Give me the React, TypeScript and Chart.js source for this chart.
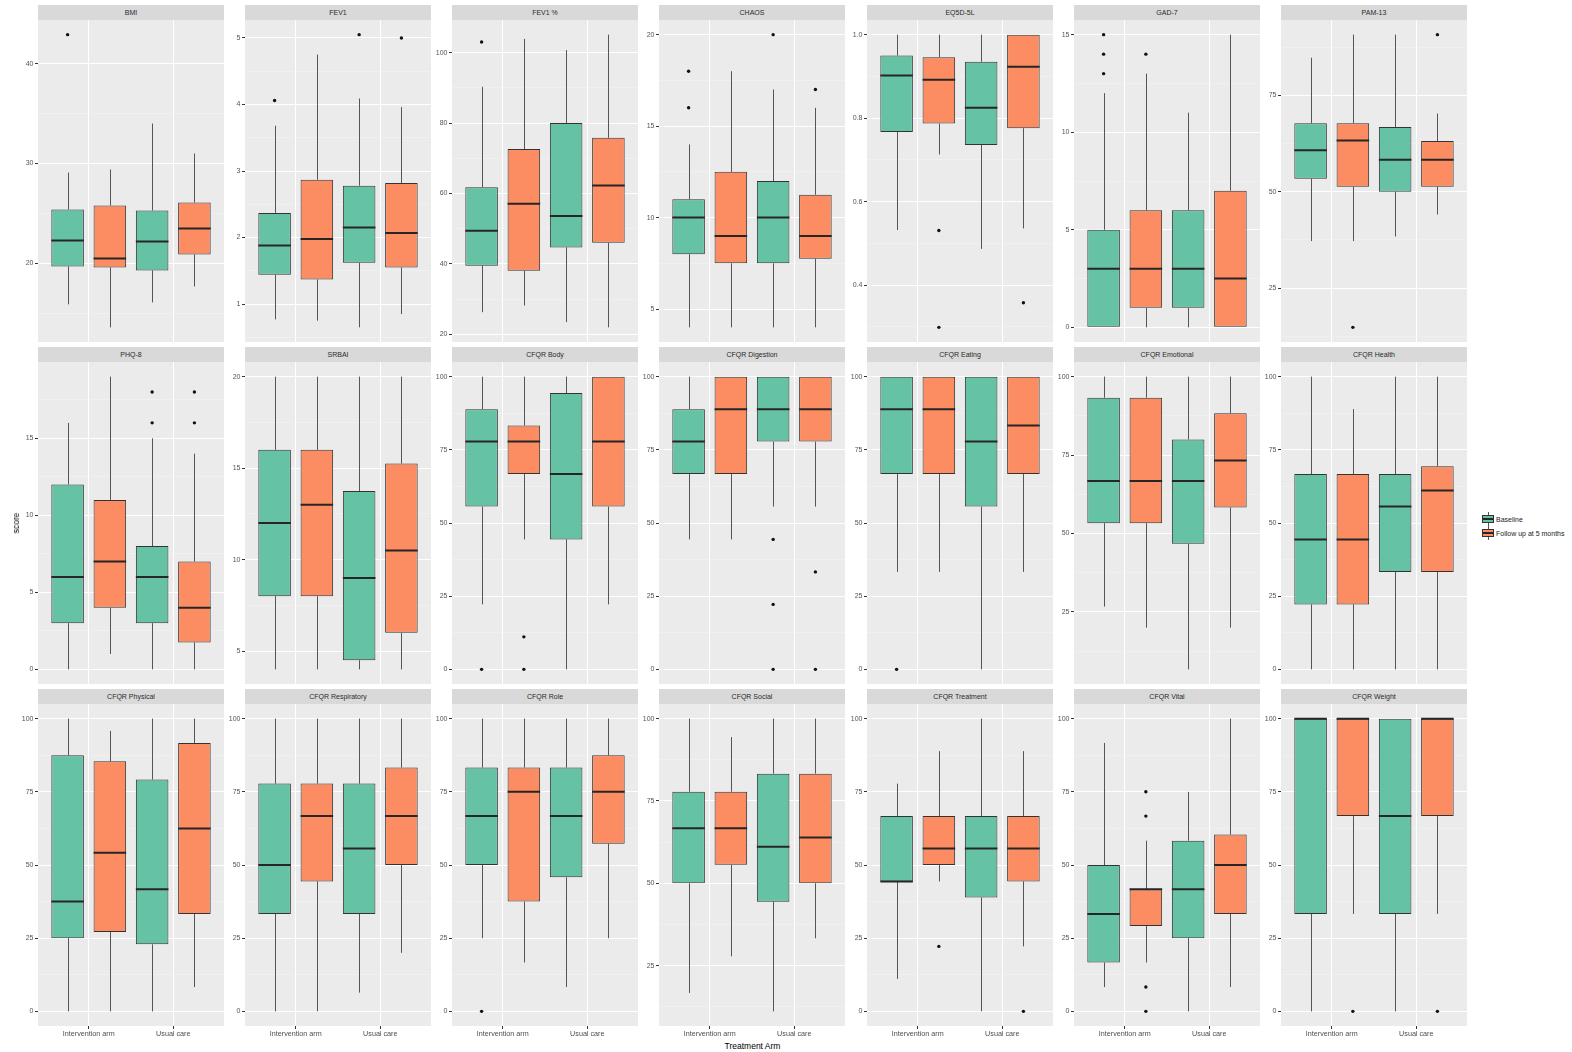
import React, { useEffect, useRef } from 'react';
import { Chart, registerables } from 'chart.js';

Chart.register(...registerables);

// ---------------- DATA ----------------
const panelTitles = [
  'BMI', 'FEV1', 'FEV1 %', 'CHAOS', 'EQ5D-5L', 'GAD-7', 'PAM-13',
  'PHQ-8', 'SRBAI', 'CFQR Body', 'CFQR Digestion', 'CFQR Eating', 'CFQR Emotional', 'CFQR Health',
  'CFQR Physical', 'CFQR Respiratory', 'CFQR Role', 'CFQR Social', 'CFQR Treatment', 'CFQR Vital', 'CFQR Weight',
];
const armLabels = ['Intervention arm', 'Usual care'];
const seriesNames = ['Baseline', 'Follow up at 5 months'];

// [lower whisker, Q1, median, Q3, upper whisker] for [Intervention arm, Usual care]
const baselineStats = [
  [[15.9, 19.7, 22.3, 25.4, 29.1], [16.1, 19.3, 22.2, 25.3, 34.0]],
  [[0.77, 1.44, 1.88, 2.37, 3.68], [0.65, 1.62, 2.15, 2.78, 4.09]],
  [[26.3, 39.5, 49.4, 61.8, 90.3], [23.5, 44.7, 53.6, 80.0, 100.7]],
  [[4, 8, 10, 11, 14], [4, 7.5, 10, 12, 17]],
  [[0.532, 0.767, 0.902, 0.95, 1], [0.487, 0.736, 0.825, 0.935, 1]],
  [[0, 0, 3, 5, 12], [0, 1, 3, 6, 11]],
  [[37.2, 53.4, 60.8, 67.8, 84.8], [38.4, 50, 58.3, 66.8, 90.8]],
  [[0, 3, 6, 12, 16], [0, 3, 6, 8, 15]],
  [[4, 8, 12, 16, 20], [4, 4.5, 9, 13.75, 20]],
  [[22.2, 55.6, 77.8, 88.9, 100], [0, 44.4, 66.7, 94.4, 100]],
  [[44.4, 66.7, 77.8, 88.9, 100], [55.6, 77.8, 88.9, 100, 100]],
  [[33.3, 66.7, 88.9, 100, 100], [0, 55.6, 77.8, 100, 100]],
  [[26.7, 53.3, 66.7, 93.3, 100], [6.7, 46.7, 66.7, 80, 100]],
  [[0, 22.2, 44.4, 66.7, 100], [0, 33.3, 55.6, 66.7, 100]],
  [[0, 25, 37.5, 87.5, 100], [0, 22.9, 41.7, 79.2, 100]],
  [[0, 33.3, 50, 77.8, 100], [6.4, 33.3, 55.6, 77.8, 100]],
  [[25, 50, 66.7, 83.3, 100], [8.3, 45.8, 66.7, 83.3, 100]],
  [[16.7, 50, 66.7, 77.8, 100], [11.1, 44.4, 61.1, 83.3, 100]],
  [[11.1, 44.4, 44.4, 66.7, 77.8], [0, 38.9, 55.6, 66.7, 100]],
  [[8.3, 16.7, 33.3, 50, 91.7], [0, 25, 41.7, 58.3, 75]],
  [[0, 33.3, 100, 100, 100], [0, 33.3, 66.7, 100, 100]],
];
const followUpStats = [
  [[13.6, 19.6, 20.5, 25.8, 29.4], [17.7, 20.9, 23.5, 26.1, 31.0]],
  [[0.75, 1.37, 1.98, 2.87, 4.75], [0.85, 1.55, 2.07, 2.82, 3.96]],
  [[28.2, 38.1, 57.1, 72.6, 103.9], [22.0, 46.0, 62.3, 75.8, 105.1]],
  [[4, 7.5, 9, 12.5, 18], [4, 7.75, 9, 11.25, 16]],
  [[0.713, 0.787, 0.892, 0.946, 1], [0.536, 0.776, 0.923, 1, 1]],
  [[0, 1, 3, 6, 13], [0, 0, 2.5, 7, 15]],
  [[37.2, 51.3, 63.3, 67.8, 90.8], [44.1, 51.3, 58.3, 63.2, 70.3]],
  [[1, 4, 7, 11, 19], [0, 1.75, 4, 7, 14]],
  [[4, 8, 13, 16, 20], [4, 6, 10.5, 15.25, 20]],
  [[44.4, 66.7, 77.8, 83.3, 100], [22.2, 55.6, 77.8, 100, 100]],
  [[44.4, 66.7, 88.9, 100, 100], [55.6, 77.8, 88.9, 100, 100]],
  [[33.3, 66.7, 88.9, 100, 100], [33.3, 66.7, 83.3, 100, 100]],
  [[20, 53.3, 66.7, 93.3, 100], [20, 58.3, 73.3, 88.3, 100]],
  [[0, 22.2, 44.4, 66.7, 88.9], [0, 33.3, 61.1, 69.4, 100]],
  [[0, 27.1, 54.2, 85.4, 95.8], [8.3, 33.3, 62.5, 91.7, 100]],
  [[0, 44.4, 66.7, 77.8, 100], [20, 50, 66.7, 83.3, 100]],
  [[16.7, 37.5, 75, 83.3, 100], [25, 57.3, 75, 87.5, 100]],
  [[27.8, 55.6, 66.7, 77.8, 94.4], [33.3, 50, 63.9, 83.3, 100]],
  [[44.4, 50, 55.6, 66.7, 88.9], [22.2, 44.4, 55.6, 66.7, 88.9]],
  [[16.7, 29.2, 41.7, 41.7, 58.3], [8.3, 33.3, 50, 60.4, 100]],
  [[33.3, 66.7, 100, 100, 100], [33.3, 66.7, 100, 100, 100]],
];
const baselineOutliers = [
  [[42.9], []], [[4.06], [5.05]], [[103], []], [[18, 16], [20]], [[], []], [[15, 14, 13], []], [[], []],
  [[], [18, 16]], [[], []], [[0], []], [[], [44.4, 22.2, 0]], [[0], []], [[], []], [[], []],
  [[], []], [[], []], [[0], []], [[], []], [[], []], [[], []], [[], []],
];
const followUpOutliers = [
  [[], []], [[], [5.0]], [[], []], [[], [17]], [[0.531, 0.299], [0.358]], [[14], []], [[14.8], [90.8]],
  [[], [18, 16]], [[], []], [[11.1, 0], []], [[], [33.3, 0]], [[], []], [[], []], [[], []],
  [[], []], [[], []], [[], []], [[], []], [[22.2], [0]], [[75, 66.7, 8.3, 0], []], [[0], [0]],
];
const yTickLabels = [
  ['20', '30', '40'], ['1', '2', '3', '4', '5'], ['20', '40', '60', '80', '100'], ['5', '10', '15', '20'],
  ['0.4', '0.6', '0.8', '1.0'], ['0', '5', '10', '15'], ['25', '50', '75'],
  ['0', '5', '10', '15'], ['5', '10', '15', '20'], ['0', '25', '50', '75', '100'], ['0', '25', '50', '75', '100'],
  ['0', '25', '50', '75', '100'], ['25', '50', '75', '100'], ['0', '25', '50', '75', '100'],
  ['0', '25', '50', '75', '100'], ['0', '25', '50', '75', '100'], ['0', '25', '50', '75', '100'],
  ['25', '50', '75', '100'], ['0', '25', '50', '75', '100'], ['0', '25', '50', '75', '100'], ['0', '25', '50', '75', '100'],
];

// ---------------- STYLE / LAYOUT ----------------
const FONT = '"Liberation Sans", Arimo, Arial, Helvetica, sans-serif';
const seriesColors = ['#66C2A5', '#FC8D62'];
const colLefts = [38, 245, 452, 659, 867, 1074, 1281];
const stripTops = [5, 347, 689];
const PANEL_W = 186;
const STRIP_H = 15;
const PLOT_H = 322;
const AXIS_W = 21;
const XAXIS_H = 14;

const boxPlugin = {
  id: 'boxparts',
  beforeDraw(chart: any) {
    const { ctx, chartArea } = chart;
    ctx.save();
    ctx.fillStyle = '#EBEBEB';
    ctx.fillRect(chartArea.left, chartArea.top, chartArea.right - chartArea.left, chartArea.bottom - chartArea.top);
    ctx.restore();
  },
  beforeDatasetsDraw(chart: any) {
    const { ctx } = chart;
    const y = chart.scales.y;
    const stats = chart.options.plugins.boxparts.stats;
    ctx.save();
    ctx.strokeStyle = '#555555';
    ctx.lineWidth = 1;
    stats.forEach((series: number[][], di: number) => {
      const meta = chart.getDatasetMeta(di);
      series.forEach((s, i) => {
        const bar = meta.data[i];
        const x = Math.round(bar.x) + 0.5;
        ctx.beginPath();
        ctx.moveTo(x, y.getPixelForValue(s[3]));
        ctx.lineTo(x, y.getPixelForValue(s[4]));
        ctx.moveTo(x, y.getPixelForValue(s[1]));
        ctx.lineTo(x, y.getPixelForValue(s[0]));
        ctx.stroke();
      });
    });
    ctx.restore();
  },
  afterDatasetsDraw(chart: any) {
    const { ctx } = chart;
    const y = chart.scales.y;
    const { stats, outliers } = chart.options.plugins.boxparts;
    ctx.save();
    stats.forEach((series: number[][], di: number) => {
      const meta = chart.getDatasetMeta(di);
      series.forEach((s, i) => {
        const bar = meta.data[i];
        const half = bar.width / 2;
        const ym = y.getPixelForValue(s[2]);
        ctx.strokeStyle = '#262626';
        ctx.lineWidth = 2;
        ctx.beginPath();
        ctx.moveTo(bar.x - half, ym);
        ctx.lineTo(bar.x + half, ym);
        ctx.stroke();
        ctx.fillStyle = '#111111';
        (outliers[di][i] || []).forEach((v: number) => {
          ctx.beginPath();
          ctx.arc(bar.x, y.getPixelForValue(v), 1.7, 0, Math.PI * 2);
          ctx.fill();
        });
      });
    });
    ctx.restore();
  },
};

function Panel({ index }: { index: number }) {
  const ref = useRef<HTMLCanvasElement | null>(null);
  const col = index % 7;
  const row = Math.floor(index / 7);
  const bottomRow = row === 2;
  const left = colLefts[col];
  const stripTop = stripTops[row];
  const canvasW = AXIS_W + PANEL_W;
  const canvasH = PLOT_H + (bottomRow ? XAXIS_H : 0);

  useEffect(() => {
    const canvas = ref.current;
    if (!canvas) return;
    const stats = [baselineStats[index], followUpStats[index]];
    const outs = [baselineOutliers[index], followUpOutliers[index]];
    const vals: number[] = [];
    stats.forEach((s) => s.forEach((b) => vals.push(b[0], b[4])));
    outs.forEach((s) => s.forEach((o) => o.forEach((v) => vals.push(v))));
    const lo = Math.min(...vals);
    const hi = Math.max(...vals);
    const pad = (hi - lo) * 0.05;
    const yMin = lo - pad;
    const yMax = hi + pad;

    const majors = yTickLabels[index].map((t) => ({ value: parseFloat(t), txt: t, minor: false }));
    const step = majors[1].value - majors[0].value;
    const ticks: any[] = [...majors];
    for (let k = -1; k < majors.length; k++) {
      const v = majors[0].value + step * (k + 0.5);
      if (v >= yMin && v <= yMax) ticks.push({ value: v, txt: '', minor: true });
    }
    ticks.sort((a, b) => a.value - b.value);

    const isMinor = (c: any) => !!(c.tick && c.tick.minor);

    const chart = new Chart(canvas, {
      type: 'bar',
      data: {
        datasets: stats.map((s, si) => ({
          label: seriesNames[si],
          data: s.map((b, ai) => ({ x: ai + 1, y: [b[1], b[3]] })),
          backgroundColor: seriesColors[si],
          borderColor: '#333333',
          borderWidth: 1,
          borderSkipped: false,
          categoryPercentage: 1.0,
          barPercentage: 0.77,
        })),
      } as any,
      options: {
        animation: false,
        responsive: false,
        maintainAspectRatio: false,
        devicePixelRatio: 1,
        layout: { padding: 0 },
        events: [],
        plugins: {
          legend: { display: false },
          tooltip: { enabled: false },
          title: { display: false },
          boxparts: { stats, outliers: outs },
        } as any,
        scales: {
          x: {
            type: 'linear',
            min: 0.4,
            max: 2.6,
            offset: false,
            afterBuildTicks: (s: any) => {
              s.ticks = [{ value: 1 }, { value: 2 }];
            },
            afterFit: (s: any) => {
              s.height = bottomRow ? XAXIS_H : 0;
              s.paddingLeft = 0;
              s.paddingRight = 0;
            },
            ticks: {
              display: bottomRow,
              autoSkip: false,
              maxRotation: 0,
              minRotation: 0,
              padding: 1,
              color: '#4D4D4D',
              font: { size: 7.2, family: FONT },
              callback: (v: any) => armLabels[Math.round(Number(v)) - 1],
            },
            grid: {
              offset: false,
              color: '#FFFFFF',
              lineWidth: 1,
              drawTicks: bottomRow,
              tickLength: 3,
              tickColor: '#333333',
              tickWidth: 1,
            },
            border: { display: false },
          },
          y: {
            type: 'linear',
            min: yMin,
            max: yMax,
            afterBuildTicks: (s: any) => {
              s.ticks = ticks.map((t) => ({ ...t }));
            },
            afterFit: (s: any) => {
              s.width = AXIS_W;
              s.paddingTop = 0;
              s.paddingBottom = 0;
            },
            ticks: {
              autoSkip: false,
              padding: 1.5,
              color: '#555555',
              font: { size: 7, family: FONT },
              callback: (_v: any, i: number, tk: any[]) => (tk[i] && !tk[i].minor ? tk[i].txt : ''),
            },
            grid: {
              color: (c: any) => (isMinor(c) ? '#F4F4F4' : '#FFFFFF'),
              lineWidth: (c: any) => (isMinor(c) ? 0.6 : 1),
              tickLength: 3,
              tickColor: (c: any) => (isMinor(c) ? 'rgba(0,0,0,0)' : '#333333'),
              tickWidth: 1,
            },
            border: { display: false },
          },
        } as any,
      },
      plugins: [boxPlugin as any],
    });
    return () => chart.destroy();
  }, [index]);

  return (
    <>
      <div
        style={{
          position: 'absolute',
          left,
          top: stripTop,
          width: PANEL_W,
          height: STRIP_H,
          background: '#D9D9D9',
          color: '#2A2A2A',
          fontFamily: FONT,
          fontSize: 7,
          lineHeight: `${STRIP_H}px`,
          textAlign: 'center',
          whiteSpace: 'nowrap',
        }}
      >
        {panelTitles[index]}
      </div>
      <canvas
        ref={ref}
        width={canvasW}
        height={canvasH}
        style={{
          position: 'absolute',
          left: left - AXIS_W,
          top: stripTop + STRIP_H,
          width: canvasW,
          height: canvasH,
        }}
      />
    </>
  );
}

function LegendKey({ color, top }: { color: string; top: number }) {
  return (
    <div style={{ position: 'absolute', left: 1482, top, width: 12, height: 14 }}>
      <div style={{ position: 'absolute', left: 5.5, top: 0, width: 1, height: 14, background: '#555555' }} />
      <div
        style={{
          position: 'absolute',
          left: 0,
          top: 3,
          width: 10,
          height: 6,
          background: color,
          border: '1px solid #333',
        }}
      />
      <div style={{ position: 'absolute', left: 1, top: 6, width: 10, height: 1.5, background: '#262626' }} />
    </div>
  );
}

export default function App() {
  return (
    <div
      style={{
        position: 'absolute',
        left: 0,
        top: 0,
        width: 1572,
        height: 1052,
        background: '#FFFFFF',
        overflow: 'hidden',
        fontFamily: FONT,
      }}
    >
      {panelTitles.map((_, i) => (
        <Panel key={i} index={i} />
      ))}
      <div
        style={{
          position: 'absolute',
          left: 15.5,
          top: 523,
          transform: 'translate(-50%, -50%) rotate(-90deg)',
          fontSize: 8.5,
          color: '#000',
          whiteSpace: 'nowrap',
        }}
      >
        score
      </div>
      <div
        style={{
          position: 'absolute',
          left: 752.5,
          top: 1045.5,
          transform: 'translate(-50%, -50%)',
          fontSize: 8.5,
          color: '#000',
          whiteSpace: 'nowrap',
        }}
      >
        Treatment Arm
      </div>
      <LegendKey color={seriesColors[0]} top={512} />
      <LegendKey color={seriesColors[1]} top={526} />
      <div style={{ position: 'absolute', left: 1496, top: 519, transform: 'translateY(-50%)', fontSize: 7, color: '#1A1A1A', whiteSpace: 'nowrap' }}>
        {seriesNames[0]}
      </div>
      <div style={{ position: 'absolute', left: 1496, top: 533, transform: 'translateY(-50%)', fontSize: 7, color: '#1A1A1A', whiteSpace: 'nowrap' }}>
        {seriesNames[1]}
      </div>
    </div>
  );
}
